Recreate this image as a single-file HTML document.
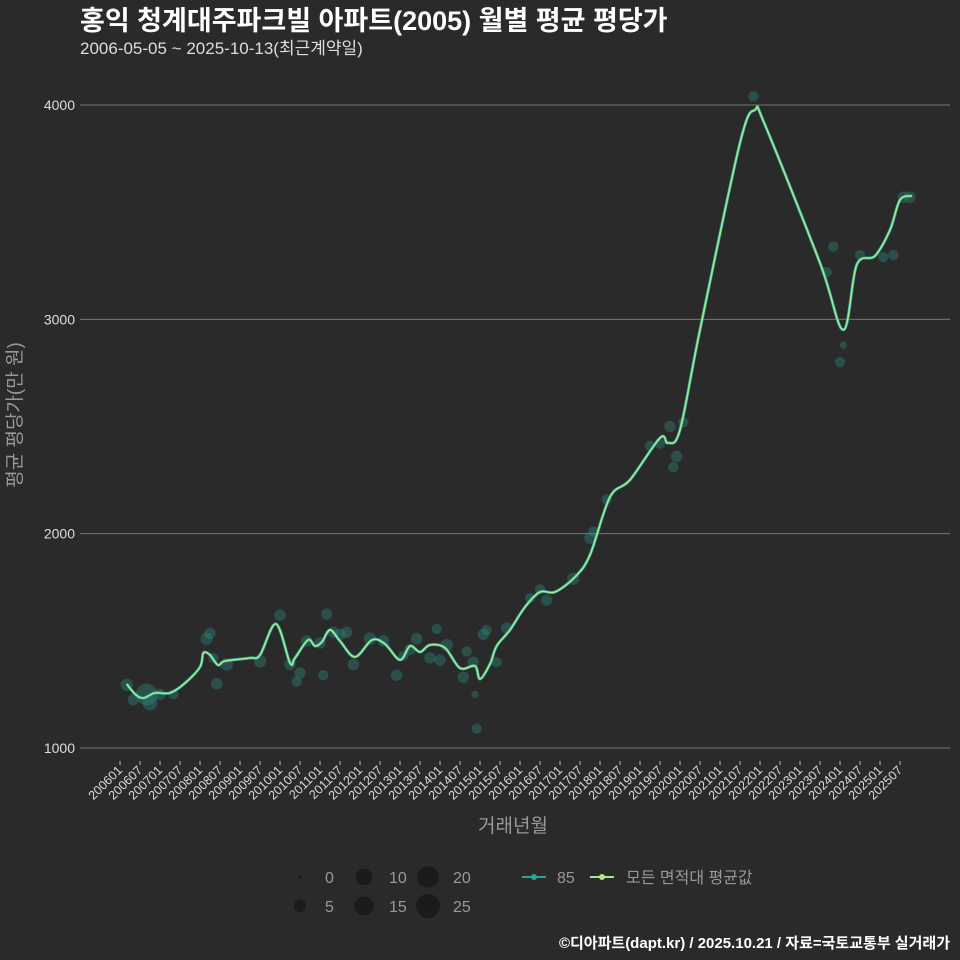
<!DOCTYPE html>
<html><head><meta charset="utf-8"><style>
html,body{margin:0;padding:0;background:#2b2a2b;}
svg{display:block;font-family:"Liberation Sans","Noto Sans CJK KR",sans-serif;}
</style></head><body>
<svg id="chart" width="960" height="960" viewBox="0 0 960 960">
<rect width="960" height="960" fill="#2b2a2b"/>
<text x="80" y="30" fill="#fff" font-size="27" font-weight="bold">홍익 청계대주파크빌 아파트(2005) 월별 평균 평당가</text>
<text x="80" y="54" fill="#ddd" font-size="17">2006-05-05 ~ 2025-10-13(최근계약일)</text>
<g id="grid"></g>
<g id="xaxis"></g>
<g id="points"></g>
<g id="lines"></g>
<text x="513" y="832" fill="#999" font-size="19" text-anchor="middle">거래년월</text>
<text transform="translate(21,415) rotate(-90)" fill="#999" font-size="19" text-anchor="middle">평균 평당가(만 원)</text>
<g id="legend"></g>
<text x="950" y="948" fill="#fff" font-size="15" font-weight="bold" text-anchor="end">©디아파트(dapt.kr) / 2025.10.21 / 자료=국토교통부 실거래가</text>
</svg>
<script>
const yTicks = [1000, 2000, 3000, 4000];
const xTickLabels = ["200601","200607","200701","200707","200801","200807","200901","200907","201001","201007","201101","201107","201201","201207","201301","201307","201401","201407","201501","201507","201601","201607","201701","201707","201801","201807","201901","201907","202001","202007","202101","202107","202201","202207","202301","202307","202401","202407","202501","202507"];
const lineMonths = [2,4.5,7,10.5,15,19.5,24,25,27,29.4,31.5,39,42,46.8,51,52.5,56.4,58.5,60.6,63,66,70.5,75.6,79.5,84,87,90,93,97.5,102,106.5,108,111,113,117,121.5,126,130.5,136.5,141,147,153,162,164.4,168,174,186,190.5,193.5,210,217,221,226.5,231,234,237.6];
const lineValues = [1299,1252,1233,1257,1257,1303,1378,1443,1434,1387,1406,1420,1434,1579,1397,1420,1504,1476,1495,1551,1499,1425,1504,1485,1411,1476,1448,1481,1467,1373,1383,1322,1392,1476,1551,1658,1728,1728,1798,1901,2171,2251,2447,2423,2484,2951,3823,3977,3907,3263,2951,3254,3296,3417,3557,3576];
const ptMonths = [2,4,8,9,12,16,26,27,29,28,32,42,48,51,53,54,56,60,61,62,64,66,68,70,75,79,83,85,87,89,93,95,96,98,103,104,106,106.5,107,109,110,113,116,123,126,128,136,141,142,146,159,162,165,166,167,169,190,212,214,216,217,222,229,232,235,237];
const ptValues = [1295,1225,1250,1210,1250,1250,1510,1535,1300,1420,1390,1405,1620,1390,1310,1350,1500,1490,1340,1625,1540,1530,1540,1390,1510,1500,1340,1430,1460,1510,1420,1555,1410,1480,1330,1450,1400,1250,1090,1530,1550,1400,1560,1700,1740,1690,1790,1980,2010,2160,2410,2420,2500,2310,2360,2520,4040,3220,3340,2800,2880,3300,3290,3300,3570,3570];
const ptCounts = [5,4,20,8,4,3,5,4,4,3,5,5,4,4,3,4,4,4,3,4,4,4,4,4,5,4,4,3,4,4,4,3,4,5,4,3,4,1,3,4,3,3,4,3,3,4,5,4,3,3,3,3,4,3,4,3,3,3,3,3,1,3,3,3,4,4];
const legendSizes = [0,5,10,15,20,25];

const NS = "http://www.w3.org/2000/svg";
const xS = m => 120 + m * 20 / 6;
const yS = v => 748 - (v - 1000) * (643 / 3000);
const rS = n => 1.5 + Math.sqrt(n) * 2.1;
function mk(tag, attrs, parent) { const e = document.createElementNS(NS, tag); for (const k in attrs) e.setAttribute(k, attrs[k]); parent.appendChild(e); return e; }

const grid = document.getElementById('grid');
yTicks.forEach(v => {
  const l = mk('line', {x1: 80, x2: 950, y1: yS(v), y2: yS(v), stroke: '#777', 'stroke-width': 1}, grid);
  
  
  const t = mk('text', {x: 75, y: yS(v) + 5, fill: '#ddd', 'font-size': 14, 'text-anchor': 'end'}, grid);
  t.textContent = v;
  
  
});
const xa = document.getElementById('xaxis');
xTickLabels.forEach((lab, i) => {
  const x = xS(i * 6);
  const tk = mk('line', {x1: x, x2: x, y1: 761, y2: 765, stroke: '#bbb'}, xa);
  
  
  const t = mk('text', {transform: `translate(${x + 3},${771}) rotate(-45)`, fill: '#ddd', 'font-size': 12.5, 'text-anchor': 'end'}, xa);
  t.textContent = lab;
  
  
});
const pts = document.getElementById('points');
ptMonths.forEach((m, i) => {
  const c = mk('circle', {cx: xS(m), cy: yS(ptValues[i]), r: rS(ptCounts[i]), fill: '#2d8a7c', 'fill-opacity': 0.4}, pts);
  
  
});
const lg = document.getElementById('lines');
const P = lineMonths.map((m, i) => [xS(m), yS(lineValues[i])]);
let d = 'M' + P[0][0].toFixed(1) + ',' + P[0][1].toFixed(1);
for (let i = 0; i < P.length - 1; i++) {
  const p0 = P[Math.max(0, i - 1)], p1 = P[i], p2 = P[i + 1], p3 = P[Math.min(P.length - 1, i + 2)];
  const c1 = [p1[0] + (p2[0] - p0[0]) / 6, p1[1] + (p2[1] - p0[1]) / 6];
  const c2 = [p2[0] - (p3[0] - p1[0]) / 6, p2[1] - (p3[1] - p1[1]) / 6];
  d += 'C' + c1.map(v => v.toFixed(1)).join(',') + ' ' + c2.map(v => v.toFixed(1)).join(',') + ' ' + p2.map(v => v.toFixed(1)).join(',');
}
const l85 = mk('path', {d: d, fill: 'none', stroke: '#2aa39a', 'stroke-width': 3, 'stroke-linejoin': 'round'}, lg);


const lAll = mk('path', {d: d, fill: 'none', stroke: '#a6e88a', 'stroke-width': 1.6, 'stroke-linejoin': 'round'}, lg);



const leg = document.getElementById('legend');
legendSizes.forEach((s, i) => {
  const col = Math.floor(i / 2), row = i % 2;
  const cx = 300 + col * 64, cy = 877 + row * 29;
  const c = mk('circle', {cx: cx, cy: cy, r: rS(s), fill: '#1c1b1c'}, leg);
  
  
  const t = mk('text', {x: cx + 25, y: cy + 6, fill: '#999', 'font-size': 16}, leg);
  t.textContent = s;
  
  
});
[["85", '#2aa39a', 522, 557], ["모든 면적대 평균값", '#a6e88a', 590, 626]].forEach(([lab, col, x, tx]) => {
  const g = mk('g', {}, leg);
  
  
  mk('line', {x1: x, x2: x + 24, y1: 877, y2: 877, stroke: col, 'stroke-width': 2}, g);
  mk('circle', {cx: x + 12, cy: 877, r: 3, fill: col}, g);
  const t = mk('text', {x: tx, y: 883, fill: '#999', 'font-size': 16}, g);
  t.textContent = lab;
});
</script>
</body></html>
